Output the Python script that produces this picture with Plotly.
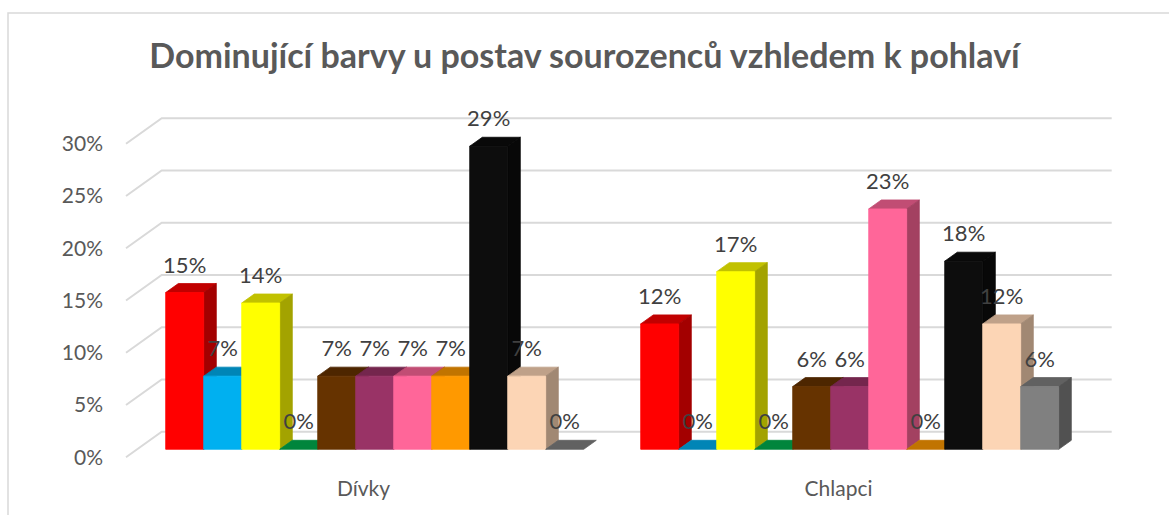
import plotly.graph_objects as go

# ---------------- data ----------------
categories = ["Dívky", "Chlapci"]
series_names = ["červená", "modrá", "žlutá", "zelená", "hnědá", "fialová",
                "růžová", "oranžová", "černá", "tělová", "šedá"]
divky = [15, 7, 14, 0, 7, 7, 7, 7, 29, 7, 0]
chlapci = [12, 0, 17, 0, 6, 6, 23, 0, 18, 12, 6]
series_colors = ["#FF0000", "#00B0F0", "#FFFF00", "#00B050", "#663300", "#993366",
                 "#FF6699", "#FF9900", "#0D0D0D", "#FCD5B5", "#808080"]
y_ticks = [0, 5, 10, 15, 20, 25, 30]
title_text = "Dominující barvy u postav sourozenců vzhledem k pohlaví"

values = [divky, chlapci]

# ---------------- geometry (pixel design -> data units) ----------------
W, H = 1169, 515
L, R, T, B = 120, 1120, 95, 462          # plot area in pixels
XPX = 38.0                               # px per x unit (one bar width)
X0PX = 137.2                             # px of x = 0 (floor left, front plane of bars)
YPX = 10.45                              # px per 1 %
Y0PX = 449.3                             # px of y = 0 (bar front base)
K = 1.4                                  # horizontal px shift per px of depth

def depth(dpx):
    """depth offset in px (upwards) -> (dx units, dy %)"""
    return dpx * K / XPX, dpx / YPX

dxt, dyt = depth(9)      # bar top depth
dxf, dyf = depth(-8)     # floor front edge
dxb, dyb = depth(17.5)   # back wall

n_series = len(series_names)
gap = 1.5
slot = n_series + gap

x_range = [(L - X0PX) / XPX, (R - X0PX) / XPX]
y_range = [-(B - Y0PX) / YPX, (Y0PX - T) / YPX]

def shade(hexcol, f):
    h = hexcol.lstrip("#")
    r, g, b = (int(h[i:i + 2], 16) for i in (0, 2, 4))
    return "#%02X%02X%02X" % (int(r * f), int(g * f), int(b * f))

fig = go.Figure()

# back wall gridlines + left diagonal floor/side lines
gx, gy = [], []
for v in y_ticks:
    gx += [dxf, dxb, slot * len(categories) + dxb, None]
    gy += [v + dyf, v + dyb, v + dyb, None]
fig.add_trace(go.Scatter(x=gx, y=gy, mode="lines",
                         line=dict(color="#D9D9D9", width=2),
                         hoverinfo="skip", showlegend=False))

# 3D bars: per series top, side, front faces
for s in range(n_series):
    col = series_colors[s]
    tops_x, tops_y, side_x, side_y, front_x, front_y = [], [], [], [], [], []
    for c in range(len(categories)):
        v = values[c][s]
        x0 = c * slot + gap / 2 + s
        x1 = x0 + 1
        tops_x += [x0, x1, x1 + dxt, x0 + dxt, x0, None]
        tops_y += [v, v, v + dyt, v + dyt, v, None]
        if v > 0:
            side_x += [x1, x1 + dxt, x1 + dxt, x1, x1, None]
            side_y += [0, dyt, v + dyt, v, 0, None]
            front_x += [x0, x1, x1, x0, x0, None]
            front_y += [0, 0, v, v, 0, None]
    for fx, fy, fc in ((tops_x, tops_y, shade(col, 0.76)),
                       (side_x, side_y, shade(col, 0.64)),
                       (front_x, front_y, col)):
        if not fx:
            continue
        fig.add_trace(go.Scatter(x=fx, y=fy, mode="lines", fill="toself",
                                 fillcolor=fc, line=dict(color=fc, width=0.8),
                                 name=series_names[s], hoverinfo="skip",
                                 showlegend=False))

# data labels
lx, ly, lt = [], [], []
for c in range(len(categories)):
    for s in range(n_series):
        v = values[c][s]
        lx.append(c * slot + gap / 2 + s + 0.5)
        ly.append(v + 25.5 / YPX)
        lt.append(f"{v}%")
fig.add_trace(go.Scatter(x=lx, y=ly, mode="text", text=lt,
                         textposition="middle center",
                         textfont=dict(family="Lato", size=22, color="#404040"),
                         cliponaxis=False, hoverinfo="skip", showlegend=False))

# chart border (light frame)
def px2paper_x(p):
    return (p - L) / (R - L)

def px2paper_y(p):
    return (B - p) / (B - T)

fig.add_shape(type="rect", xref="paper", yref="paper",
              x0=px2paper_x(8), x1=px2paper_x(W + 10),
              y0=px2paper_y(H + 10), y1=px2paper_y(13),
              line=dict(color="#D9D9D9", width=1.5), fillcolor="rgba(0,0,0,0)",
              layer="below")

fig.update_layout(
    width=W, height=H,
    margin=dict(l=L, r=W - R, t=T, b=H - B, pad=0),
    paper_bgcolor="white", plot_bgcolor="white",
    title=dict(text=title_text, x=0.5, xref="container", xanchor="center",
               y=1 - 56 / H, yref="container", yanchor="middle",
               font=dict(family="Lato", size=34, color="#595959", weight="bold")),
    xaxis=dict(range=x_range, showgrid=False, zeroline=False, showline=False,
               tickmode="array",
               tickvals=[c * slot + slot / 2 + dxf for c in range(len(categories))],
               ticktext=categories, ticks="", ticklabelstandoff=12,
               tickfont=dict(family="Lato", size=21, color="#595959"),
               fixedrange=True),
    yaxis=dict(range=y_range, showgrid=False, zeroline=False, showline=False,
               tickmode="array", tickvals=[v + dyf for v in y_ticks],
               ticktext=[f"{v}%" for v in y_ticks], ticks="",
               ticklabelstandoff=16,
               tickfont=dict(family="Lato", size=21, color="#595959"),
               fixedrange=True),
    showlegend=False,
)

fig.write_html("out.html", config={"displayModeBar": False},
               post_script="document.body.style.margin='0px';")
